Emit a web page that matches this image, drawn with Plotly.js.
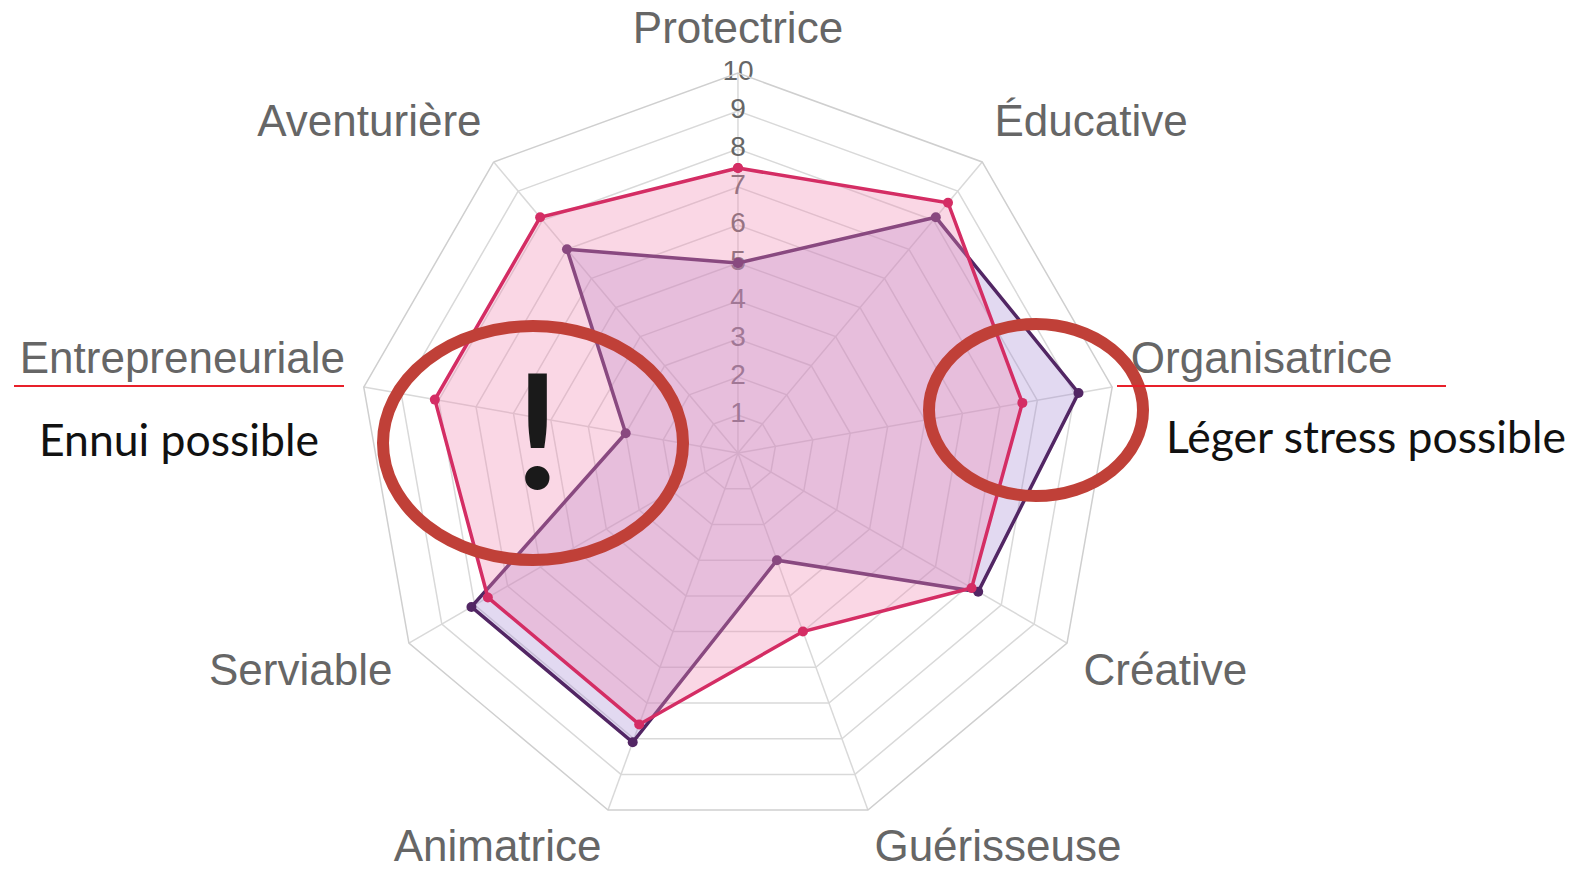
<!DOCTYPE html>
<html>
<head>
<meta charset="utf-8">
<script src="https://cdn.plot.ly/plotly-3.0.1.min.js"></script>
<style>html,body{margin:0;padding:0;background:#fff;}#chart{width:1586px;height:870px;}</style>
</head>
<body>
<div id="chart"></div>
<script>
const categories = ["Protectrice", "Éducative", "Organisatrice", "Créative", "Guérisseuse", "Animatrice", "Serviable", "Entrepreneuriale", "Aventurière"];
const pinkValues = [7.5, 8.6, 7.6, 7.1, 5.0, 7.6, 7.6, 8.1, 8.1];
const purpleValues = [5.0, 8.1, 9.1, 7.3, 3.0, 8.1, 8.1, 3.0, 7.0];
const radialTicks = [1, 2, 3, 4, 5, 6, 7, 8, 9, 10];
const radialTickLabels = ["1", "2", "3", "4", "5", "6", "7", "8", "9", "10"];
const labelPositions = ["top center", "top right", "top right", "bottom right", "bottom right", "bottom left", "bottom left", "top left", "top left"];

function closed(arr) { return arr.concat([arr[0]]); }

const W = 1586, H = 870;
const px = x => x / W;
const py = y => 1 - y / H;

const traces = [
  {
    type: "scatterpolar",
    mode: "text",
    r: radialTicks,
    theta: radialTicks.map(() => categories[0]),
    text: radialTickLabels,
    textfont: {family: "Liberation Sans, Arial, sans-serif", size: 28, color: "#666"},
    hoverinfo: "skip",
    cliponaxis: false
  },
  {
    type: "scatterpolar",
    mode: "lines+markers",
    r: closed(purpleValues),
    theta: closed(categories),
    fill: "toself",
    fillcolor: "rgba(160,130,210,0.30)",
    line: {color: "rgb(82,38,100)", width: 3.5},
    marker: {color: "rgb(82,38,100)", size: 10}
  },
  {
    type: "scatterpolar",
    mode: "lines+markers",
    r: closed(pinkValues),
    theta: closed(categories),
    fill: "toself",
    fillcolor: "rgba(240,140,180,0.35)",
    line: {color: "rgb(212,45,100)", width: 3.5},
    marker: {color: "rgb(212,45,100)", size: 10}
  },
  {
    type: "scatterpolar",
    subplot: "polar2",
    mode: "text",
    r: categories.map(() => 10),
    theta: categories,
    text: categories,
    textposition: labelPositions,
    textfont: {family: "Liberation Sans, Arial, sans-serif", size: 44, color: "#666"},
    hoverinfo: "skip",
    cliponaxis: false
  }
];

const layout = {
  width: W, height: H,
  margin: {l: 0, r: 0, t: 0, b: 0},
  paper_bgcolor: "#fff",
  showlegend: false,
  polar: {
    domain: {x: [0.2257, 0.7049], y: [0.0425, 0.916]},
    gridshape: "linear",
    bgcolor: "rgba(0,0,0,0)",
    radialaxis: {
      range: [0, 10], autorange: false, dtick: 1, showticklabels: false, ticks: "",
      showline: false, gridcolor: "#d9d9d9", gridwidth: 1.5, angle: 90
    },
    angularaxis: {
      direction: "clockwise", rotation: 90,
      gridcolor: "#d9d9d9", gridwidth: 1.5,
      linecolor: "#cfcfcf", linewidth: 1.5, showline: true, ticks: "",
      showticklabels: false
    }
  },
  polar2: {
    domain: {x: [0.2137, 0.7169], y: [0.0207, 0.9379]},
    gridshape: "linear",
    bgcolor: "rgba(0,0,0,0)",
    radialaxis: {
      range: [0, 10], autorange: false, showgrid: false, showticklabels: false, ticks: "", showline: false
    },
    angularaxis: {
      direction: "clockwise", rotation: 90, showgrid: false, showline: false,
      showticklabels: false, ticks: "", categoryarray: categories, categoryorder: "array"
    }
  },
  shapes: [
    {type: "circle", xref: "paper", yref: "paper", x0: px(383), x1: px(683), y0: py(326), y1: py(560),
     line: {color: "rgb(192,64,56)", width: 12}},
    {type: "circle", xref: "paper", yref: "paper", x0: px(929), x1: px(1143), y0: py(324), y1: py(496),
     line: {color: "rgb(192,64,56)", width: 12}},
    {type: "line", xref: "paper", yref: "paper", x0: px(14), x1: px(344), y0: py(386), y1: py(386),
     line: {color: "#e8202a", width: 2}},
    {type: "line", xref: "paper", yref: "paper", x0: px(1117), x1: px(1446), y0: py(386), y1: py(386),
     line: {color: "#e8202a", width: 2}}
  ],
  annotations: [
    {xref: "paper", yref: "paper", x: px(179), y: py(438), text: "Ennui possible", showarrow: false,
     xanchor: "center", yanchor: "middle", font: {family: "Lato, sans-serif", size: 44.5, color: "#111"}},
    {xref: "paper", yref: "paper", x: px(1366), y: py(435), text: "Léger stress possible", showarrow: false,
     xanchor: "center", yanchor: "middle", font: {family: "Lato, sans-serif", size: 44.5, color: "#111"}},
    {xref: "paper", yref: "paper", x: px(537), y: py(427), text: "!", showarrow: false,
     xanchor: "center", yanchor: "middle", font: {family: "Lato, sans-serif", size: 160, color: "#1a1a1a", weight: 700}}
  ]
};

Plotly.newPlot("chart", traces, layout, {staticPlot: true});
</script>
</body>
</html>
